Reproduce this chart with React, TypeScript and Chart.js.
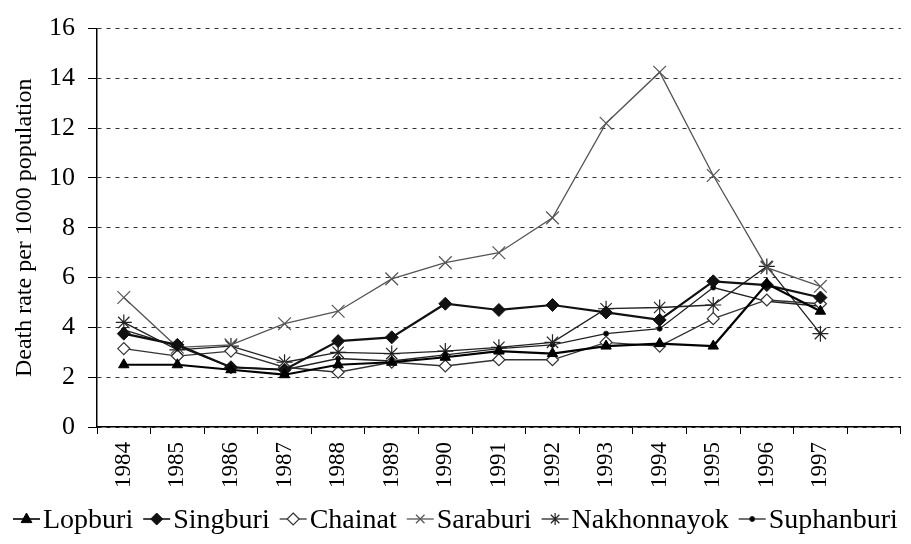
import React, { useEffect, useRef } from "react";
import { Chart, registerables } from "chart.js";

Chart.register(...registerables);

const years = ["1984", "1985", "1986", "1987", "1988", "1989", "1990", "1991", "1992", "1993", "1994", "1995", "1996", "1997", ""];
const lopburi = [2.5, 2.5, 2.3, 2.1, 2.5, 2.6, 2.8, 3.05, 2.95, 3.25, 3.35, 3.25, 5.75, 4.65];
const singburi = [3.75, 3.3, 2.4, 2.3, 3.45, 3.6, 4.95, 4.7, 4.9, 4.6, 4.3, 5.85, 5.7, 5.2];
const chainat = [3.15, 2.85, 3.05, 2.4, 2.2, 2.6, 2.45, 2.7, 2.7, 3.4, 3.25, 4.35, 5.1, 4.95];
const saraburi = [5.2, 3.2, 3.3, 4.15, 4.65, 5.95, 6.6, 7.0, 8.4, 12.2, 14.25, 10.1, 6.4, 5.65];
const nakhonnayok = [4.2, 3.1, 3.25, 2.6, 3.0, 2.95, 3.05, 3.2, 3.4, 4.75, 4.8, 4.9, 6.45, 3.75];
const suphanburi = [3.9, 3.25, 2.4, 2.3, 2.75, 2.65, 2.9, 3.15, 3.3, 3.75, 3.95, 5.6, 5.05, 4.85];
const yTicks = [0, 2, 4, 6, 8, 10, 12, 14, 16];

const FONT = "'Liberation Serif', 'Times New Roman', Times, serif";

function drawMarker(ctx: CanvasRenderingContext2D, style: string, x: number, y: number, r: number, fill: string, stroke: string, lw: number) {
  ctx.save();
  ctx.lineWidth = lw;
  ctx.strokeStyle = stroke;
  ctx.fillStyle = fill;
  ctx.beginPath();
  if (style === "triangle") {
    ctx.moveTo(x, y - r);
    ctx.lineTo(x + r * 0.9, y + r * 0.6);
    ctx.lineTo(x - r * 0.9, y + r * 0.6);
    ctx.closePath();
    ctx.fill();
    ctx.stroke();
  } else if (style === "rectRot") {
    ctx.moveTo(x, y - r);
    ctx.lineTo(x + r, y);
    ctx.lineTo(x, y + r);
    ctx.lineTo(x - r, y);
    ctx.closePath();
    ctx.fill();
    ctx.stroke();
  } else if (style === "crossRot") {
    const d = r * 0.707;
    ctx.moveTo(x - d, y - d); ctx.lineTo(x + d, y + d);
    ctx.moveTo(x + d, y - d); ctx.lineTo(x - d, y + d);
    ctx.stroke();
  } else if (style === "star") {
    const d = r * 0.707;
    ctx.moveTo(x - d, y - d); ctx.lineTo(x + d, y + d);
    ctx.moveTo(x + d, y - d); ctx.lineTo(x - d, y + d);
    ctx.moveTo(x, y - r); ctx.lineTo(x, y + r);
    ctx.stroke();
  } else {
    ctx.arc(x, y, r, 0, Math.PI * 2);
    ctx.fill();
    ctx.stroke();
  }
  ctx.restore();
}

const legendPlugin = {
  id: "bottomLegend",
  afterDraw(chart: any) {
    const ctx: CanvasRenderingContext2D = chart.ctx;
    ctx.save();
    ctx.font = `28px ${FONT}`;
    ctx.textBaseline = "alphabetic";
    ctx.fillStyle = "#000";
    let x = 13;
    const y = 519;
    chart.data.datasets.forEach((ds: any) => {
      ctx.save();
      ctx.strokeStyle = ds.borderColor;
      ctx.lineWidth = Math.min(ds.borderWidth, 1.6);
      ctx.beginPath();
      ctx.moveTo(x, y);
      ctx.lineTo(x + 27, y);
      ctx.stroke();
      ctx.restore();
      drawMarker(ctx, ds.pointStyle, x + 13.5, y, Math.min(ds.pointRadius, 6), ds.pointBackgroundColor, ds.pointBorderColor, ds.pointBorderWidth);
      ctx.fillStyle = "#000";
      ctx.fillText(ds.label, x + 30, y + 9);
      x += 30 + ctx.measureText(ds.label).width + 10;
    });
    ctx.restore();
  },
};

export default function App() {
  const ref = useRef<HTMLCanvasElement>(null);
  useEffect(() => {
    let chart: any = null;
    let cancelled = false;
    const build = () => {
      if (cancelled || !ref.current) return;
      const mk = (label: string, data: number[], color: string, width: number, style: string, radius: number, fill: string, pbw: number) => ({
        label,
        data,
        borderColor: color,
        borderWidth: width,
        pointStyle: style,
        pointRadius: radius,
        pointBackgroundColor: fill,
        pointBorderColor: color,
        pointBorderWidth: pbw,
        tension: 0,
        fill: false,
      });
      chart = new Chart(ref.current, {
        type: "line",
        data: {
          labels: years,
          datasets: [
            mk("Lopburi", lopburi, "#000", 2.2, "triangle", 6, "#000", 1),
            mk("Singburi", singburi, "#111", 2.2, "rectRot", 6.5, "#111", 1),
            mk("Chainat", chainat, "#333", 1.3, "rectRot", 6, "#fff", 1.2),
            mk("Saraburi", saraburi, "#555", 1.3, "crossRot", 9, "#555", 1.2),
            mk("Nakhonnayok", nakhonnayok, "#222", 1.3, "star", 8, "#222", 1.2),
            mk("Suphanburi", suphanburi, "#222", 1.3, "circle", 2.5, "#000", 1),
          ] as any,
        },
        options: {
          animation: false,
          responsive: false,
          layout: { padding: { top: 21, right: 0, left: 0, bottom: 44 } },
          plugins: { legend: { display: false }, tooltip: { enabled: false } },
          scales: {
            x: {
              type: "category",
              offset: true,
              afterFit: (s: any) => { s.height = 544 - 44 - 427; },
              grid: { offset: true, drawOnChartArea: false, drawTicks: true, tickLength: 7, color: "#000", tickColor: "#000" },
              border: { display: true, color: "#000", width: 1.5 },
              ticks: { minRotation: 90, maxRotation: 90, autoSkip: false, padding: 8, color: "#000", font: { family: FONT, size: 23 } },
            },
            y: {
              min: 0,
              max: 16,
              afterFit: (s: any) => { s.width = 97; },
              afterBuildTicks: (s: any) => { s.ticks = yTicks.map((v) => ({ value: v })); },
              grid: { color: "#333", lineWidth: 1, tickBorderDash: [], tickColor: "#000", tickLength: 9, drawTicks: true },
              border: { display: true, color: "#000", width: 1.5, dash: [4, 5] },
              ticks: { padding: 13, color: "#000", font: { family: FONT, size: 26 } },
              title: { display: true, text: "Death rate per 1000 population", color: "#000", font: { family: FONT, size: 24 }, padding: { top: 10, bottom: 0 } },
            },
          },
        } as any,
        plugins: [legendPlugin],
      });
    };
    const fonts: any = (document as any).fonts;
    if (fonts && fonts.load) {
      Promise.all([
        fonts.load(`26px 'Liberation Serif'`),
        fonts.load(`26px 'Times New Roman'`),
      ]).then(build, build);
    } else {
      build();
    }
    return () => {
      cancelled = true;
      if (chart) chart.destroy();
    };
  }, []);
  return (
    <div style={{ position: "absolute", left: 0, top: 0, width: 911, height: 544, background: "#fff" }}>
      <canvas ref={ref} width={911} height={544} style={{ display: "block" }} />
    </div>
  );
}
